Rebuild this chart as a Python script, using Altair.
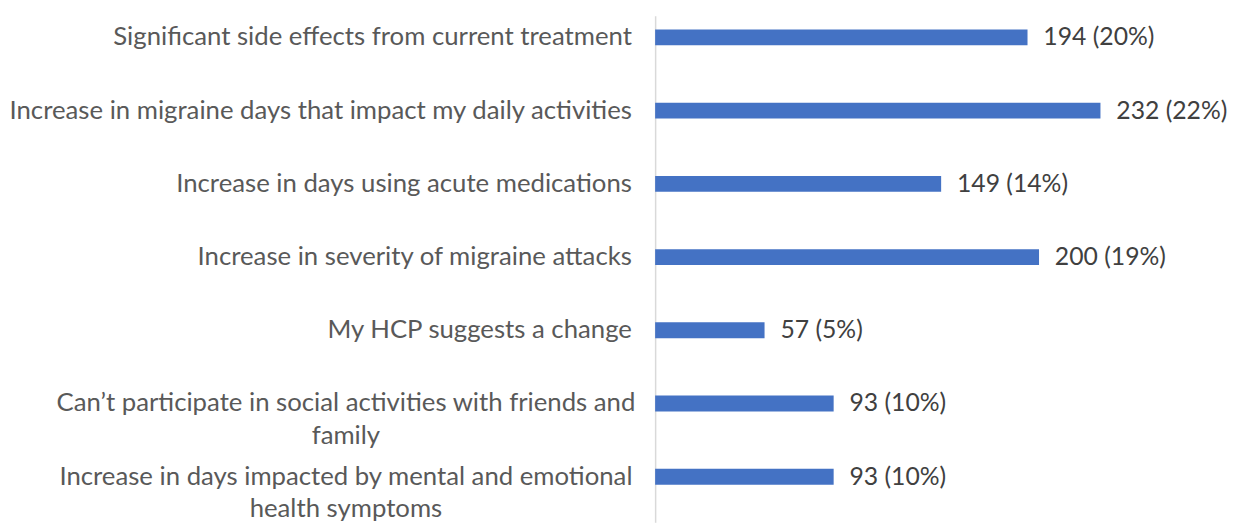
import altair as alt
import pandas as pd

categories = [
    "Significant side effects from current treatment",
    "Increase in migraine days that impact my daily activities",
    "Increase in days using acute medications ",
    "Increase in severity of migraine attacks",
    "My HCP suggests a change",
    "Can\u2019t participate in social activities with friends and|family",
    "Increase in days impacted by mental and emotional|health symptoms",
]
counts = [194, 232, 149, 200, 57, 93, 93]
percents = [20, 22, 14, 19, 5, 10, 10]

df = pd.DataFrame({"category": categories, "count": counts, "pct": percents})
df["label"] = df["count"].astype(str) + " (" + df["pct"].astype(str) + "%)"

FONT = "Lato"
y_enc = alt.Y(
    "category:N",
    sort=categories,
    scale=alt.Scale(paddingInner=0.5, paddingOuter=0.21, align=0.113),
    axis=alt.Axis(
        title=None,
        ticks=False,
        grid=False,
        domainColor="#d9d9d9",
        domainWidth=1.5,
        labelFont=FONT,
        labelFontSize=26,
        labelColor="#595959",
        labelLimit=800,
        labelLineHeight=33,
        labelBaseline="middle",
        labelExpr="split(datum.label, '|')",
        labelAlign=alt.ExprRef("indexof(datum.label, '|') >= 0 ? 'center' : 'right'"),
        labelPadding=alt.ExprRef("indexof(datum.label, '|') >= 0 ? 313 : 24"),
    ),
)

x_enc = alt.X("count:Q", scale=alt.Scale(domain=[0, 299]), axis=None)

bars = alt.Chart(df).mark_bar(size=16, color="#4472C4").encode(x=x_enc, y=y_enc)
texts = alt.Chart(df).mark_text(
    align="left", baseline="middle", dx=16, font=FONT, fontSize=25, color="#404040"
).encode(x=x_enc, y=alt.Y("category:N", sort=categories), text="label:N")

chart = (
    alt.layer(bars, texts)
    .properties(
        width=580,
        height=512,
        autosize=alt.AutoSizeParams(type="none"),
        padding={"left": 654, "top": 5, "right": 6, "bottom": 0},
    )
    .configure_view(stroke=None)
)

chart.save("out.html", embed_options={"renderer": "svg", "actions": False})
